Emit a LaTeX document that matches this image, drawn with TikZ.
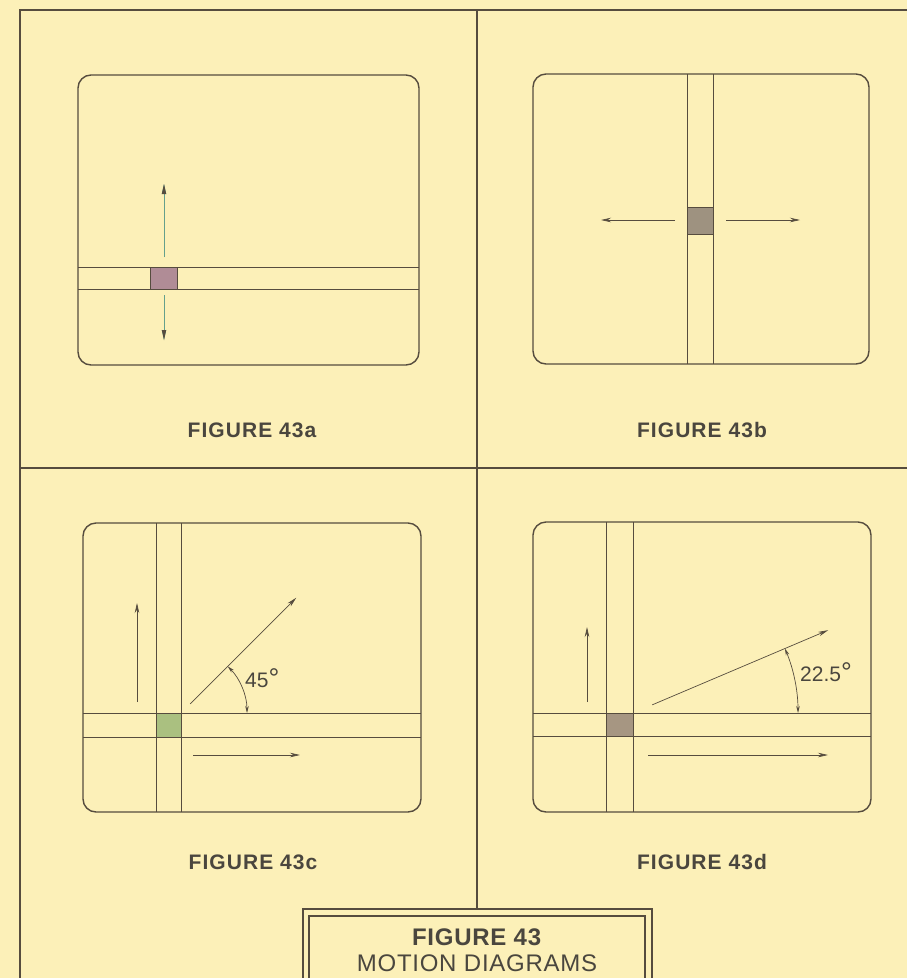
\documentclass[tikz,border=0pt]{standalone}
\usepackage{fontspec}
\setmainfont{Liberation Sans}
\usetikzlibrary{arrows.meta,calc}
\definecolor{paper}{RGB}{252,240,184}
\definecolor{ink}{RGB}{86,76,62}
\definecolor{txt}{RGB}{74,70,62}
\definecolor{sqmauve}{RGB}{176,140,150}
\definecolor{sqgray}{RGB}{158,146,128}
\definecolor{sqgreen}{RGB}{170,192,128}
\definecolor{sqtan}{RGB}{166,150,130}
\definecolor{teal}{RGB}{100,160,140}
\newcommand{\bigdeg}{{\fontsize{27}{27}\selectfont °}}
\tikzset{
  frame/.style={draw=ink,line width=2.2pt},
  screen/.style={draw=ink,line width=1.4pt,rounded corners=13pt},
  band/.style={draw=ink,line width=0.8pt},
  sqbox/.style={draw=ink,line width=0.8pt},
  motion/.style={draw=ink,line width=0.7pt,-{Stealth[length=10pt,width=4.5pt]}},
  anglearc/.style={draw=ink,line width=0.7pt,{Stealth[length=7pt,width=3.5pt]}-{Stealth[length=7pt,width=3.5pt]}},
  figlabel/.style={text=txt,font=\bfseries\fontsize{21}{25}\selectfont\addfontfeature{LetterSpace=5},inner sep=0pt},
  anglelabel/.style={text=txt,font=\fontsize{21}{25}\selectfont,inner sep=0pt},
  captext/.style={text=txt,align=center,inner sep=0pt,font=\fontsize{24}{26}\selectfont\addfontfeature{LetterSpace=3}}
}
\begin{document}
\begin{tikzpicture}[x=1pt,y=-1pt]
\fill[paper] (0,0) rectangle (907,978);
\useasboundingbox (0,0) rectangle (907,978);

% outer frame and dividers
\draw[frame] (20,978) -- (20,10) -- (907,10);
\draw[frame] (477,10) -- (477,909);
\draw[frame] (20,468) -- (907,468);

% caption box
\draw[frame,line width=1.8pt] (303,978) -- (303,909) -- (652,909) -- (652,978);
\draw[frame,line width=1.8pt] (309,978) -- (309,916) -- (645,916) -- (645,978);
\node[captext] (caption) at (477,950) {\textbf{FIGURE 43}\\MOTION DIAGRAMS};

% ---------- panel a ----------
\draw[screen] (78,75) rectangle (419,365);
\draw[band] (78,267) -- (419,267);
\draw[band] (78,289) -- (419,289);
\filldraw[sqbox,fill=sqmauve] (150,267) rectangle (177,289);
\coordinate (a1) at (164,257); \coordinate (a2) at (164,184);
\coordinate (a3) at (164,295); \coordinate (a4) at (164,340);
\draw[motion,draw=teal] (a1) -- (a2);
\draw[motion,draw=teal] (a3) -- (a4);
\fill[ink] (164,184) -- (161.8,194) -- (166.2,194) -- cycle;
\fill[ink] (164,340) -- (161.8,330) -- (166.2,330) -- cycle;
\node[figlabel] (la) at (252,430) {FIGURE 43a};

% ---------- panel b ----------
\draw[screen] (533,74) rectangle (869,364);
\draw[band] (687,74) -- (687,364);
\draw[band] (713,74) -- (713,364);
\filldraw[sqbox,fill=sqgray] (687,207) rectangle (713,234);
\coordinate (b1) at (675,220); \coordinate (b2) at (601,220);
\coordinate (b3) at (726,220); \coordinate (b4) at (800,220);
\draw[motion] (b1) -- (b2);
\draw[motion] (b3) -- (b4);
\node[figlabel] (lb) at (702,430) {FIGURE 43b};

% ---------- panel c ----------
\draw[screen] (83,523) rectangle (421,812);
\draw[band] (156,523) -- (156,812);
\draw[band] (181,523) -- (181,812);
\draw[band] (83,713) -- (421,713);
\draw[band] (83,737) -- (421,737);
\filldraw[sqbox,fill=sqgreen] (156,713) rectangle (181,737);
\coordinate (cO) at (181,713);
\coordinate (c1) at (137,702); \coordinate (c2) at (137,603);
\coordinate (c3) at (193,755); \coordinate (c4) at (300,755);
\coordinate (c5) at ($(cO)+(-45:13)$); \coordinate (c6) at ($(cO)+(-45:163)$);
\draw[motion] (c1) -- (c2);
\draw[motion] (c3) -- (c4);
\draw[motion] (c5) -- (c6);
\draw[anglearc] ($(cO)+(-45:66)$) arc[start angle=-45,end angle=0,radius=66];
\node[anglelabel,anchor=base west] (a45) at (245,687) {45\bigdeg};
\node[figlabel] (lc) at (253,862) {FIGURE 43c};

% ---------- panel d ----------
\draw[screen] (533,522) rectangle (871,812);
\draw[band] (606,522) -- (606,812);
\draw[band] (633,522) -- (633,812);
\draw[band] (533,713) -- (871,713);
\draw[band] (533,736) -- (871,736);
\filldraw[sqbox,fill=sqtan] (606,713) rectangle (633,736);
\coordinate (dO) at (633,713);
\coordinate (d1) at (587,702); \coordinate (d2) at (587,627);
\coordinate (d3) at (648,755); \coordinate (d4) at (828,755);
\coordinate (d5) at ($(dO)+(-23:21)$); \coordinate (d6) at ($(dO)+(-23:212)$);
\draw[motion] (d1) -- (d2);
\draw[motion] (d3) -- (d4);
\draw[motion] (d5) -- (d6);
\draw[anglearc] ($(dO)+(-23:165)$) arc[start angle=-23,end angle=0,radius=165];
\node[anglelabel,anchor=base west] (a225) at (800,681) {22.5\bigdeg};
\node[figlabel] (ld) at (702,862) {FIGURE 43d};
\end{tikzpicture}
\end{document}
